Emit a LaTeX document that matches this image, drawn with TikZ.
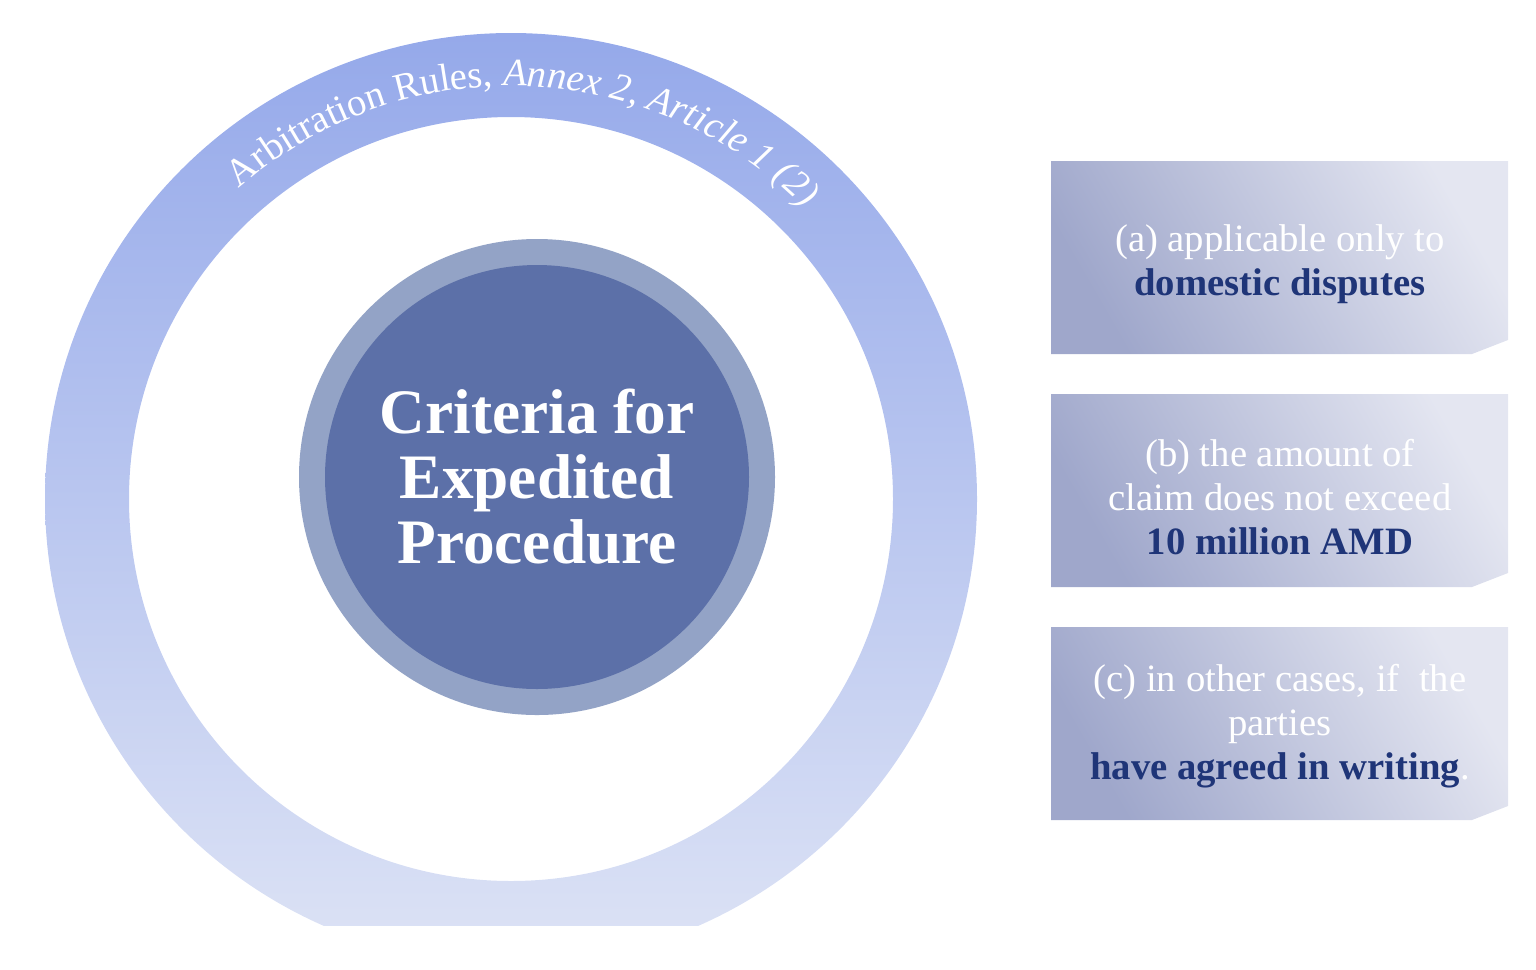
\documentclass[tikz,border=0pt]{standalone}
\usepackage{fontspec}
\setmainfont{Liberation Serif}
\usetikzlibrary{decorations.text}
\definecolor{ringtop}{HTML}{95A9EA}
\definecolor{ringbot}{HTML}{DDE3F5}
\definecolor{corering}{HTML}{93A3C6}
\definecolor{corefill}{HTML}{5C70A8}
\definecolor{boxdark}{HTML}{9FA7CB}
\definecolor{boxlight}{HTML}{E4E6F1}
\definecolor{navy}{HTML}{1F3578}
\begin{document}
\begin{tikzpicture}[x=0.01cm,y=-0.01cm]
\tikzstyle{boxtext}=[align=center,text=white,font=\fontsize{11}{12.5}\selectfont]
\tikzstyle{crit}=[left color=boxlight,right color=boxdark,shading angle=-60]

\useasboundingbox (0,0) rectangle (1536,969);

%% Outer ring
\begin{scope}
\clip (0,0) rectangle (1536,925);
\path[top color=ringtop,bottom color=ringbot,even odd rule]
  (511,499) circle[radius=466] (511,499) circle[radius=382];
\end{scope}
\path[decorate,decoration={text along path,text align=center,
  text={|\color{white}\fontsize{11}{11}\selectfont|Arbitration Rules, |\color{white}\fontsize{11}{11}\selectfont\itshape|Annex 2, Article 1 (2)}}]
  (5.11cm,-4.99cm) ++(137:4.13cm) arc[start angle=137,end angle=39,radius=4.13cm];

%% Core circle
\fill[corering] (537,477) circle[radius=238];
\fill[corefill] (537,477) circle[radius=212];
\node[align=center,text=white,font=\bfseries\fontsize{18}{18.5}\selectfont]
  (core) at (537,477) {Criteria for\\Expedited\\Procedure};

%% Criteria boxes
\foreach \y/\n in {161/a,394/b,627/c}
  \path[crit] (1051,\y) -- (1508,\y) -- (1508,\y+179) -- (1472,\y+193)
    -- (1051,\y+193) -- cycle;
\node[boxtext] (crita) at (1280,264) {(a) applicable only to\\\textcolor{navy}{\bfseries domestic disputes}};
\node[boxtext] (critb) at (1280,497) {(b) the amount of\\claim does not exceed\\\textcolor{navy}{\bfseries 10 million AMD}};
\node[boxtext] (critc) at (1280,726) {(c) in other cases, if\ \ the\\parties\\\textcolor{navy}{\bfseries have agreed in writing}.};
\end{tikzpicture}
\end{document}
